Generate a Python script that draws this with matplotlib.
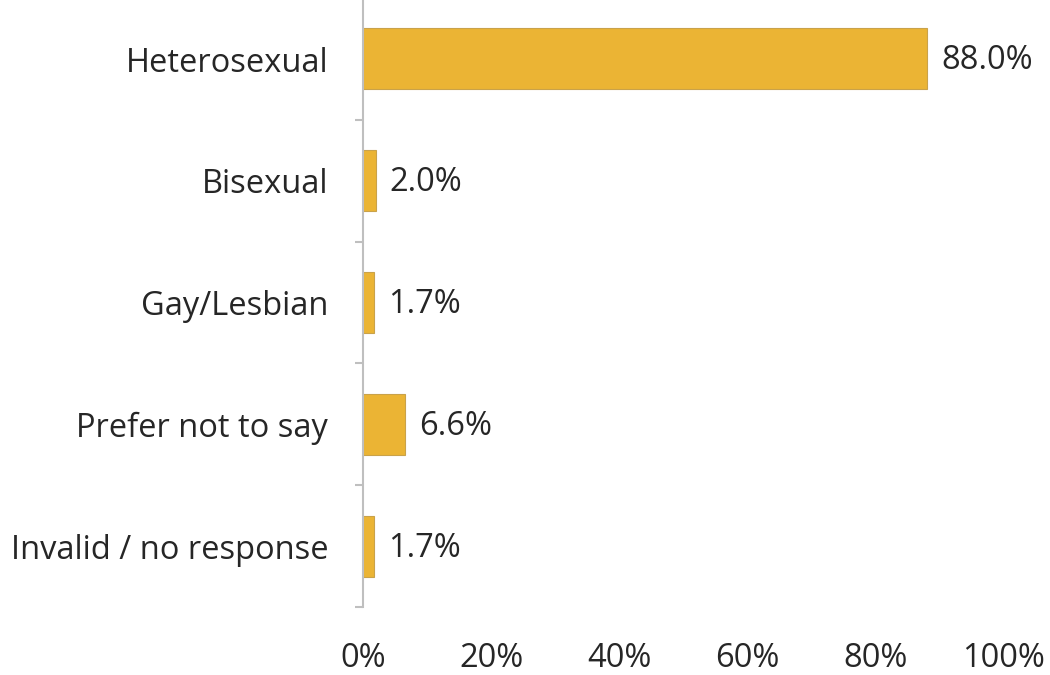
import matplotlib
matplotlib.use('Agg')
import matplotlib.pyplot as plt
import matplotlib.transforms as mtransforms
from matplotlib.ticker import FixedLocator, PercentFormatter

# Orientation sexuelle des répondants (%)
categories = ['Heterosexual', 'Bisexual', 'Gay/Lesbian', 'Prefer not to say', 'Invalid / no response']
valeurs = [88.0, 2.0, 1.7, 6.6, 1.7]
x_ticks = [0, 20, 40, 60, 80, 100]

BAR_COLOR = '#EBB434'
AXIS_COLOR = '#BFBFBF'
TEXT_COLOR = '#262626'
FS = 23.5

plt.rcParams['font.family'] = ['Open Sans', 'DejaVu Sans']

fig = plt.figure(figsize=(10.5, 6.75), dpi=100)
ax = fig.add_axes([0.3457, 0.1007, 0.6105, 0.9023])

pos = list(range(len(categories)))
ax.barh(pos, valeurs, height=0.5, color=BAR_COLOR, edgecolor='#C9A24A', linewidth=0.8)

# Étiquettes de valeur au bout des barres
for y, v in zip(pos, valeurs):
    ax.annotate(f'{v:.1f}%', (v, y), xytext=(10, -1.5), textcoords='offset points',
                va='center', ha='left', fontsize=FS, color=TEXT_COLOR)

ax.set_xlim(0, 100)
ax.set_ylim(len(categories) - 0.5, -0.5)

ax.set_yticks(pos)
ax.set_yticklabels(categories, va='center')
ax.yaxis.set_minor_locator(FixedLocator([p + 0.5 for p in pos]))
ax.tick_params(axis='y', which='major', length=0, pad=25, labelsize=FS, labelcolor=TEXT_COLOR)
ax.tick_params(axis='y', which='minor', length=6, width=1.5, color=AXIS_COLOR)

# Décaler légèrement les libellés vers le bas
decalage = mtransforms.ScaledTranslation(0, -3 / 72, fig.dpi_scale_trans)
for lbl in ax.get_yticklabels():
    lbl.set_transform(lbl.get_transform() + decalage)

ax.set_xticks(x_ticks)
ax.xaxis.set_major_formatter(PercentFormatter(decimals=0))
ax.tick_params(axis='x', length=0, pad=25, labelsize=FS, labelcolor=TEXT_COLOR)

for side in ['top', 'right', 'bottom']:
    ax.spines[side].set_visible(False)
ax.spines['left'].set_color(AXIS_COLOR)
ax.spines['left'].set_linewidth(1.5)

fig.savefig('out.png', dpi=100)
